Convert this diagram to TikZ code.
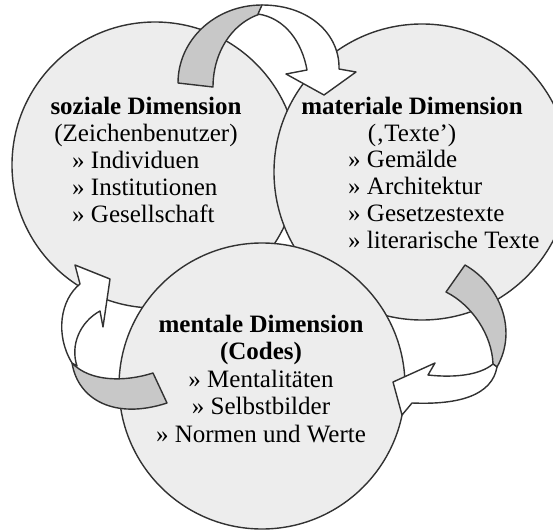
\documentclass[tikz,border=0pt]{standalone}
\usepackage{fontspec}
\setmainfont{Liberation Serif}
\usepackage{tikz}
\usetikzlibrary{positioning}
\definecolor{DimFill}{RGB}{237,237,237}
\definecolor{BackGray}{RGB}{200,200,200}
\definecolor{EdgeGray}{RGB}{50,50,50}
\tikzset{
  dim/.style={circle, draw=EdgeGray, fill=DimFill, line width=1.4pt, inner sep=0pt},
  head/.style={align=center, font=\fontsize{25}{27}\selectfont, inner sep=0pt},
  items/.style={align=left, font=\fontsize{25}{27}\selectfont, inner sep=0pt},
  back/.style={draw=EdgeGray, fill=BackGray, line width=1.4pt, line join=round},
  front/.style={draw=EdgeGray, fill=white, line width=1.4pt, line join=round}
}

\begin{document}
\begin{tikzpicture}[x=1pt, y=1pt]
  \useasboundingbox (0,0) rectangle (553,531);
  \clip (0,0) rectangle (553,531);
  % the three dimensions
  \node[dim, minimum size=286pt] (soz) at (155,366) {};
  \node[dim, minimum size=296pt] (mat) at (422,359) {};
  \node[dim, minimum size=286pt] (men) at (262,145) {};
  % soziale -> materiale
  \draw[back] (178,448) .. controls (178,491) and (215,526) .. (262,526)
    -- (268,519) .. controls (235,513) and (213,481) .. (213,444) -- cycle;
  \draw[front] (262,526) .. controls (310,526) and (340,496) .. (339,462)
    -- (356,459) -- (324,436) -- (286,457) -- (307,461)
    .. controls (302,489) and (285,513) .. (258,517) -- cycle;
  % materiale -> mentale
  \draw[back] (465,266) .. controls (500,246) and (518,201) .. (497,164)
    -- (493,167) .. controls (492,196) and (472,226) .. (446,239) -- cycle;
  \draw[front] (497,164) .. controls (492,136) and (460,126) .. (412,128)
    -- (402,116) -- (393,149) -- (435,168) -- (428,156)
    .. controls (455,153) and (480,156) .. (493,167) -- cycle;
  % mentale -> soziale
  \draw[back] (153,158) .. controls (125,149) and (90,149) .. (72,168)
    .. controls (78,131) and (115,111) .. (167,128) -- cycle;
  \draw[front] (72,168) .. controls (55,196) and (60,231) .. (80,247)
    -- (75,266) -- (110,252) -- (103,204) -- (100,220)
    .. controls (80,209) and (70,186) .. (77,165) -- cycle;
  % texts (base = last line)
  \node[head, anchor=base] (sozh) at (146,389) {\textbf{soziale Dimension}\\(Zeichenbenutzer)};
  \node[items, anchor=base west] (sozl) at (72,309) {» Individuen\\» Institutionen\\» Gesellschaft};
  \node[head, anchor=base] (math) at (412,389) {\textbf{materiale Dimension}\\(‚Texte’)};
  \node[items, anchor=base west] (matl) at (348,283) {» Gemälde\\» Architektur\\» Gesetzestexte\\» literarische Texte};
  \node[head, anchor=base, font=\fontsize{25}{27.5}\selectfont] (menh) at (261,89)
    {\textbf{mentale Dimension}\\\textbf{(Codes)}\\» Mentalitäten\\» Selbstbilder\\» Normen und Werte};
\end{tikzpicture}
\end{document}
